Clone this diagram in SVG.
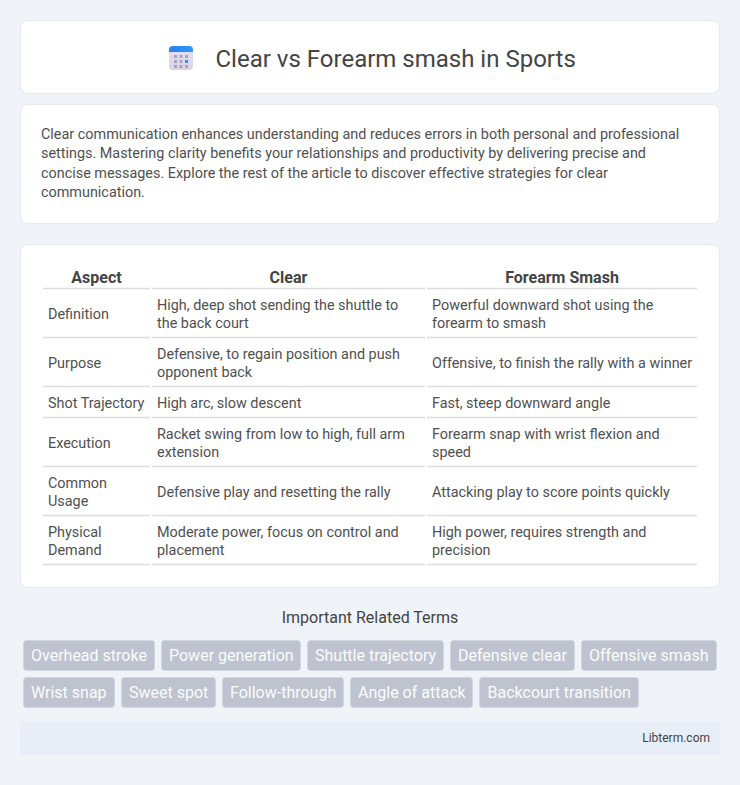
<svg xmlns="http://www.w3.org/2000/svg" width="740" height="785" viewBox="0 0 740 785">
<defs>
<linearGradient id="cal" x1="0" y1="0" x2="0" y2="1"><stop offset="0" stop-color="#e6e0f0"/><stop offset="1" stop-color="#dcd3ea"/></linearGradient>
<linearGradient id="calTop" x1="0" y1="0" x2="1" y2="0"><stop offset="0" stop-color="#2f7bf0"/><stop offset="1" stop-color="#2a9bf5"/></linearGradient>
</defs>
<style>
text{font-family:Roboto,"Liberation Sans",sans-serif;fill:#444}
.card{fill:#fff;stroke:#e4e8f0;stroke-width:1}
.body{font-size:14.4px;fill:#505050}
.th{font-size:16px;font-weight:700;text-anchor:middle}
.rule{stroke:#dddddd;stroke-width:1.5}
.tag{fill:#bec3cf;stroke:#d2d6de;stroke-width:1}
.tagt{font-size:16px;fill:#fbfcfd}
.dot{fill:#a9a3bc}
</style>
<rect width="740" height="785" fill="#f0f3f8"/>
<g id="header">
<rect class="card" x="20.5" y="20.5" width="699" height="73" rx="8"/>
<g id="icon">
<rect x="169" y="46" width="24" height="24" rx="4" fill="url(#cal)"/>
<path d="M169 52v-2a4 4 0 0 1 4-4h16a4 4 0 0 1 4 4v2z" fill="url(#calTop)"/>
<rect class="dot" x="174" y="55" width="3" height="3"/><rect class="dot" x="179.500" y="55" width="3" height="3"/><rect class="dot" x="185" y="55" width="3" height="3"/>
<rect class="dot" x="174" y="60" width="3" height="3"/><rect class="dot" x="179.500" y="60" width="3" height="3"/><rect x="185" y="60" width="3" height="3" fill="#2a8cf0"/>
<rect class="dot" x="174" y="65" width="3" height="3"/><rect class="dot" x="179.500" y="65" width="3" height="3"/><rect class="dot" x="185" y="65" width="3" height="3"/>
</g>
<text x="215.500" y="67" font-size="24">Clear vs Forearm smash in Sports</text>
</g>
<g id="intro">
<rect class="card" x="20.5" y="104.5" width="699" height="119" rx="8"/>
<text class="body" x="41" y="139">Clear communication enhances understanding and reduces errors in both personal and professional</text>
<text class="body" x="41" y="158">settings. Mastering clarity benefits your relationships and productivity by delivering precise and</text>
<text class="body" x="41" y="178">concise messages. Explore the rest of the article to discover effective strategies for clear</text>
<text class="body" x="41" y="197">communication.</text>
</g>
<g id="table">
<rect class="card" x="20.5" y="244.5" width="699" height="343" rx="8"/>
<text class="th" x="96.500" y="283">Aspect</text>
<text class="th" x="288.500" y="283">Clear</text>
<text class="th" x="562" y="283">Forearm Smash</text>
<g id="rules">
<path class="rule" d="M43 288.500H150M152 288.500H425M427 288.500H697M43 337.500H150M152 337.500H425M427 337.500H697M43 386.500H150M152 386.500H425M427 386.500H697M43 417.500H150M152 417.500H425M427 417.500H697M43 466.500H150M152 466.500H425M427 466.500H697M43 515.500H150M152 515.500H425M427 515.500H697M43 564.500H150M152 564.500H425M427 564.500H697"/>
</g>
<g>
<text class="body" x="48" y="319">Definition</text>
<text class="body" x="157" y="310">High, deep shot sending the shuttle to</text>
<text class="body" x="157" y="328">the back court</text>
<text class="body" x="432" y="310">Powerful downward shot using the</text>
<text class="body" x="432" y="328">forearm to smash</text>
<text class="body" x="48" y="368">Purpose</text>
<text class="body" x="157" y="359">Defensive, to regain position and push</text>
<text class="body" x="157" y="377">opponent back</text>
<text class="body" x="432" y="368">Offensive, to finish the rally with a winner</text>
<text class="body" x="48" y="408">Shot Trajectory</text>
<text class="body" x="157" y="408">High arc, slow descent</text>
<text class="body" x="432" y="408">Fast, steep downward angle</text>
<text class="body" x="48" y="448">Execution</text>
<text class="body" x="157" y="439">Racket swing from low to high, full arm</text>
<text class="body" x="157" y="457">extension</text>
<text class="body" x="432" y="439">Forearm snap with wrist flexion and</text>
<text class="body" x="432" y="457">speed</text>
<text class="body" x="48" y="488">Common</text>
<text class="body" x="48" y="506">Usage</text>
<text class="body" x="157" y="497">Defensive play and resetting the rally</text>
<text class="body" x="432" y="497">Attacking play to score points quickly</text>
<text class="body" x="48" y="537">Physical</text>
<text class="body" x="48" y="555">Demand</text>
<text class="body" x="157" y="537">Moderate power, focus on control and</text>
<text class="body" x="157" y="555">placement</text>
<text class="body" x="432" y="537">High power, requires strength and</text>
<text class="body" x="432" y="555">precision</text>
</g>
</g>
<text id="terms-title" x="370" y="623" font-size="16" text-anchor="middle">Important Related Terms</text>
<g id="tags">
<rect class="tag" x="23.500" y="640.500" width="131" height="30" rx="3"/><text class="tagt" x="31" y="661">Overhead stroke</text>
<rect class="tag" x="161.500" y="640.500" width="139" height="30" rx="3"/><text class="tagt" x="169" y="661">Power generation</text>
<rect class="tag" x="307.500" y="640.500" width="136" height="30" rx="3"/><text class="tagt" x="315" y="661">Shuttle trajectory</text>
<rect class="tag" x="450.500" y="640.500" width="124" height="30" rx="3"/><text class="tagt" x="458" y="661">Defensive clear</text>
<rect class="tag" x="581.500" y="640.500" width="135" height="30" rx="3"/><text class="tagt" x="589" y="661">Offensive smash</text>
<rect class="tag" x="23.500" y="677.500" width="91" height="30" rx="3"/><text class="tagt" x="31" y="698">Wrist snap</text>
<rect class="tag" x="121.500" y="677.500" width="94" height="30" rx="3"/><text class="tagt" x="129" y="698">Sweet spot</text>
<rect class="tag" x="222.500" y="677.500" width="121" height="30" rx="3"/><text class="tagt" x="230" y="698">Follow-through</text>
<rect class="tag" x="350.500" y="677.500" width="122" height="30" rx="3"/><text class="tagt" x="358" y="698">Angle of attack</text>
<rect class="tag" x="479.500" y="677.500" width="159" height="30" rx="3"/><text class="tagt" x="487.500" y="698">Backcourt transition</text>
</g>
<g id="footer">
<rect x="20" y="721" width="700" height="34" fill="#e8eef8"/>
<text x="710" y="742" font-size="12" text-anchor="end">Libterm.com</text>
</g>
</svg>
